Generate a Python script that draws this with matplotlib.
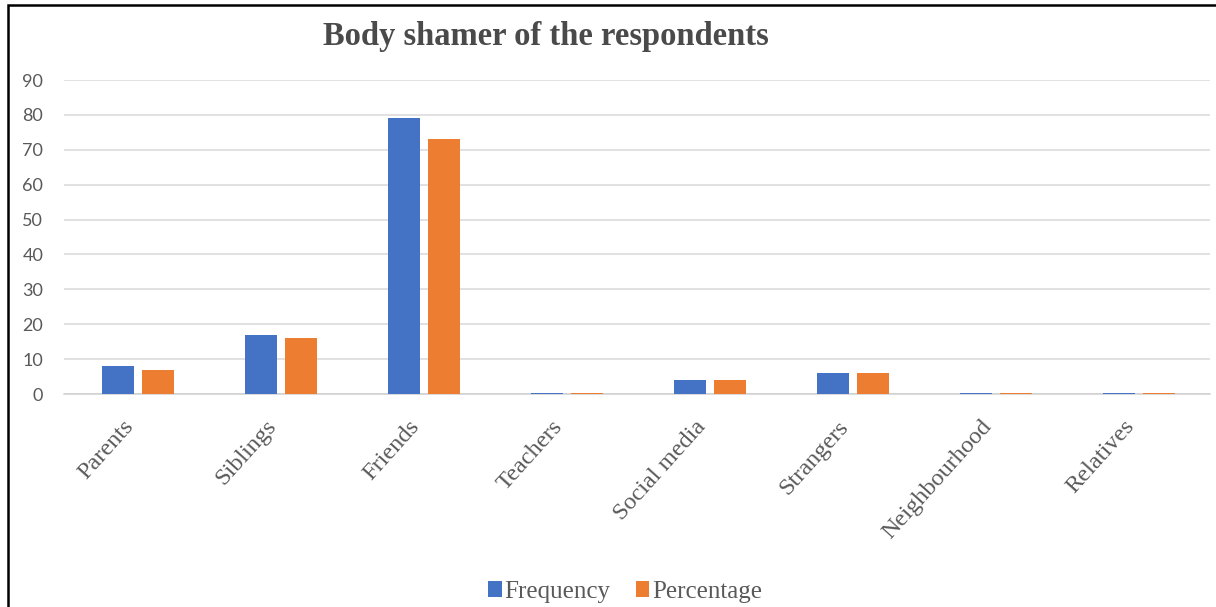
import numpy as np
import matplotlib.pyplot as plt
from matplotlib.patches import Rectangle

categories = ['Parents', 'Siblings', 'Friends', 'Teachers', 'Social media',
              'Strangers', 'Neighbourhood', 'Relatives']
frequency = [8, 17, 79, 0.4, 4, 6, 0.4, 0.4]
percentage = [7, 16, 73, 0.4, 4, 6, 0.4, 0.4]
yticks = [0, 10, 20, 30, 40, 50, 60, 70, 80, 90]

blue = '#4472C4'
orange = '#ED7D31'
label_col = '#595959'
serif = ['Liberation Serif', 'DejaVu Serif']

fig = plt.figure(figsize=(12.16, 6.07), dpi=100)
ax = fig.add_axes([0.0526, 0.3509, 0.9424, 0.5173])

x = np.arange(len(categories))
w = 0.225
off = 0.14
ax.bar(x - off, frequency, w, color=blue, label='Frequency', zorder=3)
ax.bar(x + off, percentage, w, color=orange, label='Percentage', zorder=3)

ax.set_xlim(-0.517, 7.497)
ax.set_ylim(0, 90)
ax.set_yticks(yticks)
ax.grid(axis='y', color='#d9d9d9', linewidth=1.1, zorder=0)
for s in ['top', 'right', 'left']:
    ax.spines[s].set_visible(False)
ax.spines['bottom'].set_color('#d0d0d0')
ax.spines['bottom'].set_linewidth(1.1)

ax.tick_params(axis='y', length=0, pad=15, labelsize=13, labelcolor=label_col)
for t in ax.get_yticklabels():
    t.set_fontfamily('Lato')

ax.set_xticks(x)
ax.set_xticklabels(categories, rotation=48, ha='right', va='top',
                   fontsize=17.5, color=label_col, family=serif)
ax.tick_params(axis='x', length=0, pad=16)
for t in ax.get_xticklabels():
    t.set_x(t.get_position()[0] + 0.03)

fig.text(0.449, 0.926, 'Body shamer of the respondents', ha='center',
         va='baseline', fontsize=23.5, fontweight='bold', color='#4a4a4a',
         family=serif)

leg = fig.legend(loc='center', bbox_to_anchor=(0.514, 0.025), ncol=2,
                 frameon=False, handlelength=0.55, handleheight=0.55,
                 handletextpad=0.1, columnspacing=1.0,
                 prop={'family': serif, 'size': 18})
for t in leg.get_texts():
    t.set_color(label_col)

# outer frame around the chart
fig.patches.append(Rectangle((8 / 1216, -0.2), 1.2, 1.2 - 5 / 607,
                             transform=fig.transFigure, fill=False,
                             edgecolor='black', linewidth=1.8))

fig.savefig('out.png', dpi=100)
